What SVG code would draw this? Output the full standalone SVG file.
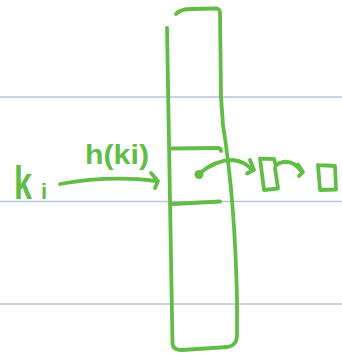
<svg xmlns="http://www.w3.org/2000/svg" width="342" height="353" viewBox="0 0 342 353">
<style>
.ink{fill:none;stroke:#62bd47;stroke-width:3.8;stroke-linecap:round;stroke-linejoin:round}
.rule{stroke:#b6c3df;stroke-width:1.5}
.lbl{fill:#62bd47;font-family:"Liberation Sans",Arial,sans-serif;font-weight:bold}
</style>
<rect width="342" height="353" fill="#ffffff"/>
<g id="rules">
<line class="rule" x1="0" y1="97" x2="342" y2="97"/>
<line class="rule" x1="0" y1="201.5" x2="342" y2="201.5"/>
<line class="rule" x1="0" y1="304" x2="342" y2="304"/>
</g>
<g id="table">
<path class="ink" d="M176,14 Q180,9 192,9 L217,8.5 Q220,9 220,13 L221,97 L223,125 Q235,200 237,300 L237,336 Q237,345 228,347 L182,350 Q173,350 172.5,344 L167,28"/>
</g>
<g id="bucket">
<path class="ink" d="M172,148.5 L217,148 Q221,148 221,151"/>
<path class="ink" d="M173,204 L220,201.5"/>
<circle cx="199" cy="174.5" r="4.5" fill="#62bd47"/>
</g>
<g id="node1">
<path class="ink" d="M260,158.5 L264,190 L278,188.5 L275,168 M260,158.5 L274,159 L276,166"/>
</g>
<g id="node2">
<path class="ink" d="M318,165 L320,190 L336,189.5 L335,166 L318,165"/>
</g>
<g id="connectors">
<path class="ink" d="M199,174 Q215,160 232,160 Q245,161 252,170"/>
<path class="ink" d="M250,160 L254,170 L247,173.5"/>
<path class="ink" d="M276,165 Q290,156 302,172"/>
<path class="ink" d="M298,164.5 L303,172 L299,176"/>
<path class="ink" d="M60,184 Q110,175 157,181"/>
<path class="ink" d="M151,173 L158,181 L155,188"/>
</g>
<g id="labels">
<text class="lbl" x="14" y="199" font-size="46" textLength="18" lengthAdjust="spacingAndGlyphs">k</text>
<text class="lbl" x="41" y="199" font-size="22">i</text>
<text class="lbl" x="85" y="164" font-size="28" textLength="64" lengthAdjust="spacingAndGlyphs">h(ki)</text>
</g>
</svg>
